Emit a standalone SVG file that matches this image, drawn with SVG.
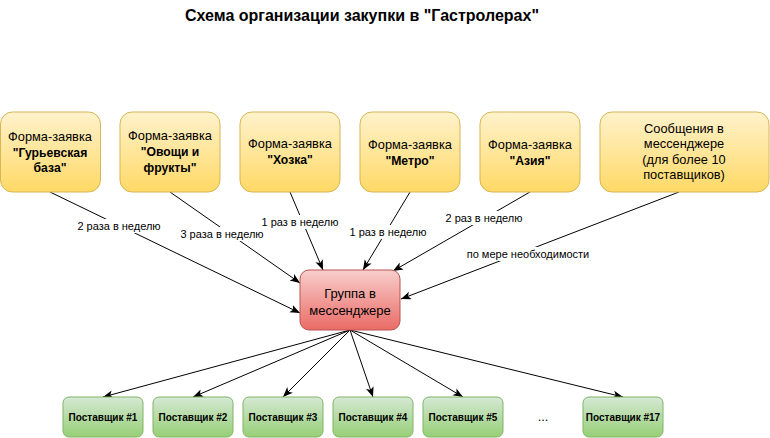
<svg xmlns="http://www.w3.org/2000/svg" width="770" height="438" viewBox="0 0 770 438">
<defs>
<linearGradient id="gy" x1="0" y1="0" x2="0" y2="1"><stop offset="0" stop-color="#fff2cc"/><stop offset="1" stop-color="#ffd966"/></linearGradient>
<linearGradient id="gr" x1="0" y1="0" x2="0" y2="1"><stop offset="0" stop-color="#f8cecc"/><stop offset="1" stop-color="#ea6b66"/></linearGradient>
<linearGradient id="gg" x1="0" y1="0" x2="0" y2="1"><stop offset="0" stop-color="#d5e8d4"/><stop offset="1" stop-color="#97d077"/></linearGradient>
<marker id="arr" markerUnits="userSpaceOnUse" markerWidth="12" markerHeight="10" refX="10" refY="4" orient="auto">
<path d="M0,0 L10,4 L0,8 L2.5,4 Z" fill="#000"/>
</marker>
<style>
text{font-family:"Liberation Sans",Arial,Helvetica,sans-serif;fill:#000;text-anchor:middle}
.t{font-size:12.8px}
.b{font-size:12.2px;font-weight:bold}
.g{font-size:13px}
.s{font-size:10px;font-weight:bold}
.l{font-size:11px}
.title{font-size:16px;font-weight:bold}
.ny{fill:url(#gy);stroke:#d6b656;stroke-width:1}
.nr{fill:url(#gr);stroke:#b85450;stroke-width:1}
.ng{fill:url(#gg);stroke:#82b366;stroke-width:1}
.e{stroke:#000;stroke-width:1;fill:none;marker-end:url(#arr)}
.lb{fill:#fff}
</style>
</defs>
<rect width="770" height="438" fill="#fff"/>
<text class="title" x="362" y="21">Схема организации закупки в "Гастролерах"</text>

<g id="connectors">
<line class="e" x1="50" y1="192" x2="300" y2="313"/>
<line class="e" x1="170" y1="192" x2="300" y2="283"/>
<line class="e" x1="290" y1="192" x2="323" y2="270"/>
<line class="e" x1="410" y1="192" x2="363" y2="270"/>
<line class="e" x1="530" y1="192" x2="393" y2="271"/>
<line class="e" x1="679" y1="192" x2="401" y2="299"/>
<line class="e" x1="350" y1="330" x2="103" y2="397"/>
<line class="e" x1="350" y1="330" x2="193" y2="397"/>
<line class="e" x1="350" y1="330" x2="283" y2="397"/>
<line class="e" x1="350" y1="330" x2="373" y2="397"/>
<line class="e" x1="350" y1="330" x2="463" y2="397"/>
<line class="e" x1="350" y1="330" x2="623" y2="397"/>
<rect class="lb" x="78" y="219" width="82" height="14"/>
<text class="l" x="119" y="230">2 раза в неделю</text>
<rect class="lb" x="182" y="227" width="81" height="14"/>
<text class="l" x="222" y="238">3 раза в неделю</text>
<rect class="lb" x="262" y="215" width="76" height="14"/>
<text class="l" x="300" y="226">1 раз в неделю</text>
<rect class="lb" x="350" y="225" width="76" height="14"/>
<text class="l" x="388" y="236">1 раз в неделю</text>
<rect class="lb" x="445" y="211" width="77" height="14"/>
<text class="l" x="484" y="222">2 раз в неделю</text>
<rect class="lb" x="467" y="247" width="122" height="14"/>
<text class="l" x="528" y="258">по мере необходимости</text>
</g>

<g id="n1"><rect class="ny" x="0.5" y="112" width="100" height="80" rx="12"/>
<text class="t" x="50" y="141">Форма-заявка</text><text class="b" x="50" y="157">"Гурьевская</text><text class="b" x="50" y="172">база"</text></g>
<g id="n2"><rect class="ny" x="120" y="112" width="100" height="80" rx="12"/>
<text class="t" x="170" y="140">Форма-заявка</text><text class="b" x="170" y="156">"Овощи и</text><text class="b" x="170" y="172">фрукты"</text></g>
<g id="n3"><rect class="ny" x="240" y="112" width="100" height="80" rx="12"/>
<text class="t" x="290" y="148">Форма-заявка</text><text class="b" x="290" y="164">"Хозка"</text></g>
<g id="n4"><rect class="ny" x="360" y="112" width="100" height="80" rx="12"/>
<text class="t" x="410" y="149">Форма-заявка</text><text class="b" x="410" y="165">"Метро"</text></g>
<g id="n5"><rect class="ny" x="480" y="112" width="100" height="80" rx="12"/>
<text class="t" x="530" y="149">Форма-заявка</text><text class="b" x="530" y="165">"Азия"</text></g>
<g id="n6"><rect class="ny" x="600" y="112" width="169" height="80" rx="12"/>
<text class="t" x="684" y="133">Сообщения в</text><text class="t" x="684" y="148">мессенджере</text><text class="t" x="684" y="164">(для более 10</text><text class="t" x="684" y="179">поставщиков)</text></g>

<g id="group"><rect class="nr" x="300" y="270" width="100" height="60" rx="9"/>
<text class="g" x="350" y="297.5">Группа в</text><text class="g" x="350" y="314.5">мессенджере</text></g>

<g id="s1"><rect class="ng" x="63" y="397" width="80" height="40" rx="6"/><text class="s" x="103" y="420.5">Поставщик #1</text></g>
<g id="s2"><rect class="ng" x="153" y="397" width="80" height="40" rx="6"/><text class="s" x="193" y="420.5">Поставщик #2</text></g>
<g id="s3"><rect class="ng" x="243" y="397" width="80" height="40" rx="6"/><text class="s" x="283" y="420.5">Поставщик #3</text></g>
<g id="s4"><rect class="ng" x="333" y="397" width="80" height="40" rx="6"/><text class="s" x="373" y="420.5">Поставщик #4</text></g>
<g id="s5"><rect class="ng" x="423" y="397" width="80" height="40" rx="6"/><text class="s" x="463" y="420.5">Поставщик #5</text></g>
<text class="t" x="543" y="421">...</text>
<g id="s17"><rect class="ng" x="583" y="397" width="80" height="40" rx="6"/><text class="s" x="623" y="420.5">Поставщик #17</text></g>
</svg>
